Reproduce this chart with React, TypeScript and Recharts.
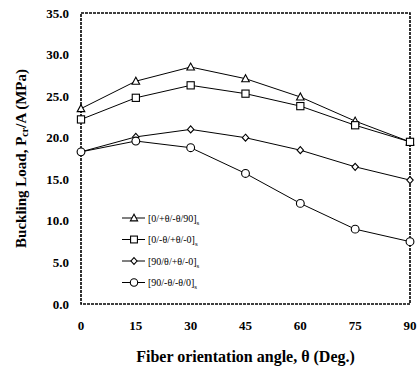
import React from 'react';
import { LineChart, Line, XAxis, YAxis, ReferenceArea, Label } from 'recharts';

const angles = [0, 15, 30, 45, 60, 75, 90];
const seriesA = [23.5, 26.8, 28.5, 27.1, 24.9, 22.0, 19.5];
const seriesB = [22.2, 24.8, 26.3, 25.3, 23.8, 21.5, 19.5];
const seriesC = [18.3, 20.1, 21.0, 20.0, 18.5, 16.5, 14.9];
const seriesD = [18.3, 19.6, 18.8, 15.7, 12.1, 9.0, 7.5];
const yTicks = [0, 5, 10, 15, 20, 25, 30, 35];
const xTicks = angles;
const legendNames = ['[0/+θ/-θ/90]', '[0/-θ/+θ/-0]', '[90/θ/+θ/-0]', '[90/-θ/-θ/0]'];
const markers = ['triangle', 'square', 'diamond', 'circle'];
const keys = ['a', 'b', 'c', 'd'];

const data = angles.map((x, i) => ({
  x,
  a: seriesA[i],
  b: seriesB[i],
  c: seriesC[i],
  d: seriesD[i],
}));

const FONT = '"Liberation Serif", "DejaVu Serif", serif';

function Marker({ type, cx, cy, s = 1 }: { type: string; cx: number; cy: number; s?: number }) {
  const common = { fill: '#fff', stroke: '#000', strokeWidth: 1.1 };
  if (type === 'triangle') {
    return <polygon points={`${cx},${cy - 4 * s} ${cx - 3.8 * s},${cy + 3 * s} ${cx + 3.8 * s},${cy + 3 * s}`} {...common} />;
  }
  if (type === 'square') {
    return <rect x={cx - 3.6 * s} y={cy - 3.6 * s} width={7.2 * s} height={7.2 * s} {...common} />;
  }
  if (type === 'diamond') {
    return <polygon points={`${cx},${cy - 3.5 * s} ${cx + 3.2 * s},${cy} ${cx},${cy + 3.5 * s} ${cx - 3.2 * s},${cy}`} {...common} />;
  }
  return <circle cx={cx} cy={cy} r={3.9 * s} {...common} />;
}

const makeDot = (type: string) => (props: any) => {
  const { cx, cy, index } = props;
  if (cx == null || cy == null) return <g key={index} />;
  return <Marker key={`${type}-${index}`} type={type} cx={cx} cy={cy} />;
};

function LegendBox() {
  return (
    <svg width={120} height={80} style={{ position: 'absolute', left: 119, top: 210 }}>
      {legendNames.map((name, i) => {
        const y = 8 + i * 21.5;
        return (
          <g key={name}>
            <line x1={3} x2={26} y1={y} y2={y} stroke="#000" strokeWidth={1} />
            <Marker type={markers[i]} cx={15} cy={y} s={0.95} />
            <text x={29} y={y + 3.5} fontFamily={FONT} fontSize={10} fill="#000">
              {name}
              <tspan fontSize={7} dy={3}>s</tspan>
            </text>
          </g>
        );
      })}
    </svg>
  );
}

function YTitle(props: any) {
  const { viewBox } = props;
  const cx = 21;
  const cy = viewBox.y + viewBox.height / 2;
  return (
    <text
      x={cx}
      y={cy}
      transform={`rotate(-90, ${cx}, ${cy})`}
      textAnchor="middle"
      dominantBaseline="central"
      fontFamily={FONT}
      fontWeight="bold"
      fontSize={15}
      fill="#000"
    >
      Buckling Load, P
      <tspan fontSize={10} dy={3}>cr</tspan>
      <tspan dy={-3}>/A (MPa)</tspan>
    </text>
  );
}

export default function App() {
  return (
    <div style={{ position: 'absolute', left: 0, top: 0, width: 418, height: 366, background: '#fff' }}>
      <LineChart width={418} height={366} data={data} margin={{ top: 13, right: 8, bottom: 0, left: 0 }}>
        <XAxis
          dataKey="x"
          type="number"
          domain={[0, 90]}
          ticks={xTicks}
          tickLine={false}
          axisLine={false}
          tickSize={0}
          tickMargin={17}
          height={62}
          tick={{ fontFamily: FONT, fontWeight: 'bold', fontSize: 13, fill: '#000' }}
        >
          <Label
            value="Fiber orientation angle, θ (Deg.)"
            position="insideBottom"
            offset={4}
            style={{ fontFamily: FONT, fontWeight: 'bold', fontSize: 16, fill: '#000' }}
          />
        </XAxis>
        <YAxis
          type="number"
          domain={[0, 35]}
          ticks={yTicks}
          tickFormatter={(v: number) => v.toFixed(1)}
          tickLine={false}
          axisLine={false}
          tickSize={0}
          tickMargin={12}
          width={81}
          tick={{ fontFamily: FONT, fontWeight: 'bold', fontSize: 13, fill: '#000' }}
        >
          <Label content={<YTitle />} />
        </YAxis>
        <ReferenceArea x1={0} x2={90} y1={0} y2={35} fill="none" stroke="#000" strokeWidth={1.6} strokeDasharray="3 1" />
        {keys.map((k, i) => (
          <Line
            key={k}
            dataKey={k}
            stroke="#000"
            strokeWidth={1}
            isAnimationActive={false}
            dot={makeDot(markers[i])}
            activeDot={false}
          />
        ))}
      </LineChart>
      <LegendBox />
    </div>
  );
}
